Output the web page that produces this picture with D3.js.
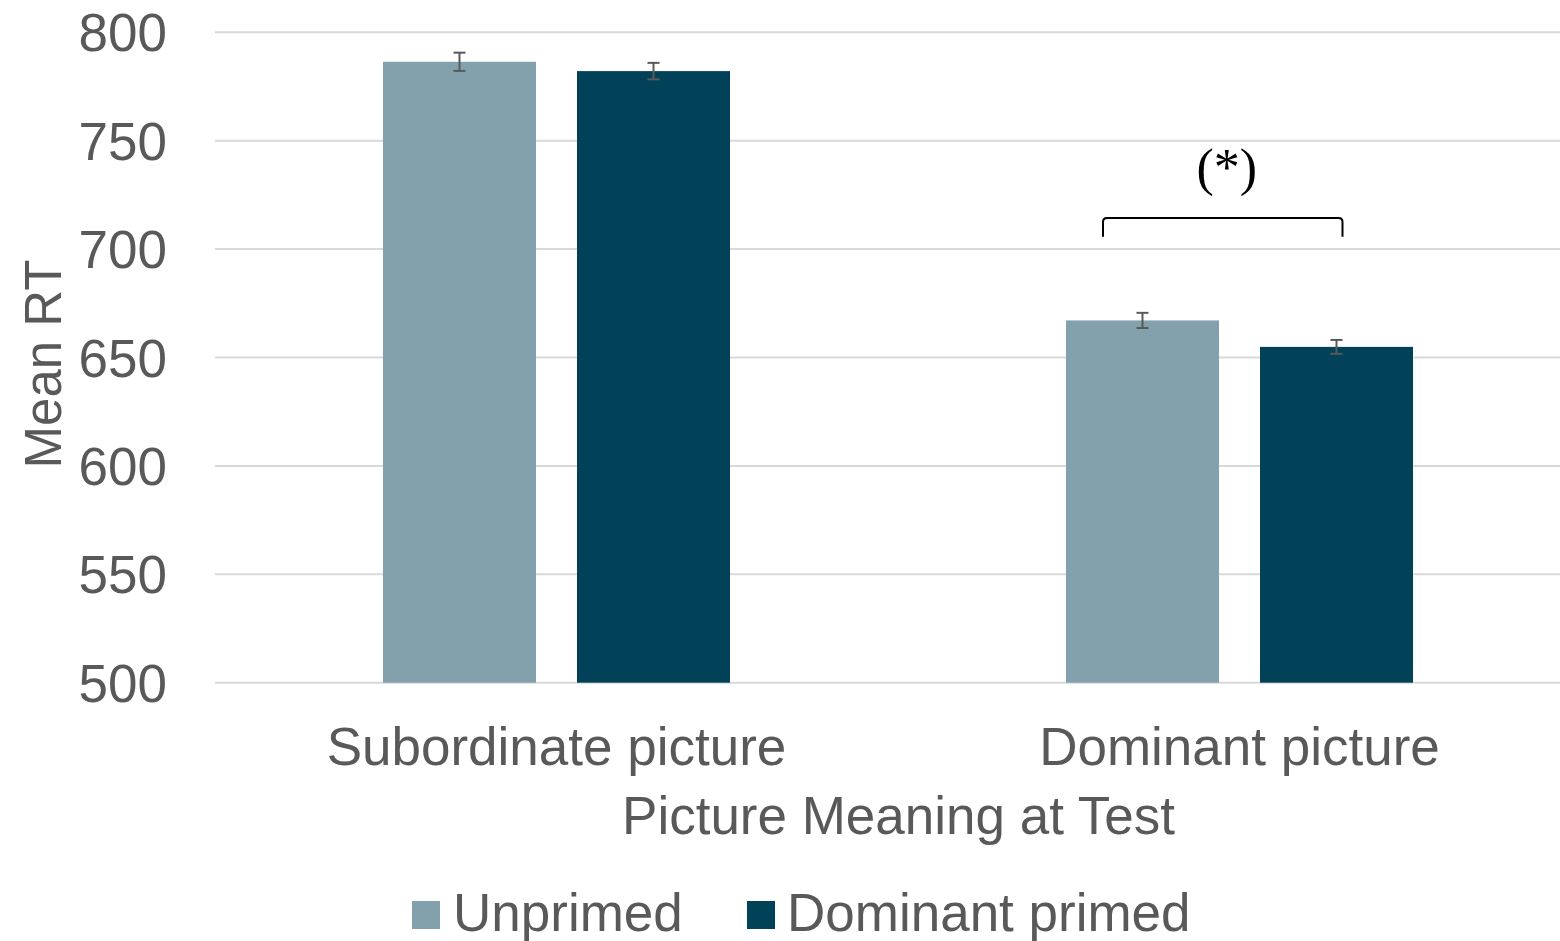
<!DOCTYPE html>
<html>
<head>
<meta charset="utf-8">
<script src="https://cdn.jsdelivr.net/npm/d3@7"></script>
<style>
  html, body { margin: 0; padding: 0; background: #ffffff; }
  svg { display: block; }
  text { font-family: "Liberation Sans", Arial, sans-serif; fill: #595959; }
</style>
</head>
<body>
<svg id="chart" width="1560" height="941"></svg>
<script>
// Mean reaction times by picture meaning and priming condition
const categories = ["Subordinate picture", "Dominant picture"];
const seriesNames = ["Unprimed", "Dominant primed"];
const unprimed = [786.4, 667.1];
const dominantPrimed = [782.1, 654.9];
const unprimedErr = [4.2, 3.5];
const dominantPrimedErr = [3.8, 3.2];
const yTicks = [500, 550, 600, 650, 700, 750, 800];
const seriesColors = ["#82a1ac", "#024259"];

const yTitle = "Mean RT";
const xTitle = "Picture Meaning at Test";
const sigLabel = "(*)";
const sigBracket = { category: "Dominant picture", low: 705.7, high: 714.3 };

const rows = categories.map((c, i) => ({
  category: c,
  bars: [
    { series: seriesNames[0], value: unprimed[i], err: unprimedErr[i] },
    { series: seriesNames[1], value: dominantPrimed[i], err: dominantPrimedErr[i] }
  ]
}));

const svg = d3.select("#chart");
const FS = 53;

const y = d3.scaleLinear().domain([500, 800]).range([682.7, 32.3]);
const x0 = d3.scaleBand().domain(categories).range([215, 1581]).padding(0);
const groupWidth = 347;
const groupStart = (x0.bandwidth() - groupWidth) / 2;
const x1 = d3.scaleBand().domain(seriesNames)
  .range([groupStart, groupStart + groupWidth])
  .paddingInner(41 / 194).paddingOuter(0);
const color = d3.scaleOrdinal().domain(seriesNames).range(seriesColors);

// Horizontal gridlines
svg.append("g")
  .selectAll("line")
  .data(yTicks)
  .join("line")
  .attr("x1", 215)
  .attr("x2", 1560)
  .attr("y1", d => y(d))
  .attr("y2", d => y(d))
  .attr("stroke", "#d9d9d9")
  .attr("stroke-width", 2);

// Y axis labels
const yAxis = svg.append("g")
  .attr("transform", "translate(167,0)")
  .call(d3.axisLeft(y).tickValues(yTicks).tickSize(0).tickPadding(0).tickFormat(d3.format("d")));
yAxis.select(".domain").remove();
yAxis.selectAll("text")
  .attr("font-size", FS)
  .attr("fill", "#595959")
  .attr("font-family", "Liberation Sans, Arial, sans-serif")
  .attr("dy", "0.35em");

// Bars
const groups = svg.append("g")
  .selectAll("g")
  .data(rows)
  .join("g")
  .attr("transform", d => `translate(${x0(d.category)},0)`);

groups.selectAll("rect")
  .data(d => d.bars)
  .join("rect")
  .attr("x", d => x1(d.series))
  .attr("y", d => y(d.value))
  .attr("width", x1.bandwidth())
  .attr("height", d => y(500) - y(d.value))
  .attr("fill", d => color(d.series));

// Error bars
const capHalf = 6;
const eb = groups.selectAll("g.err")
  .data(d => d.bars)
  .join("g")
  .attr("class", "err")
  .attr("stroke", "#595959")
  .attr("stroke-width", 2);
eb.append("line")
  .attr("x1", d => x1(d.series) + x1.bandwidth() / 2)
  .attr("x2", d => x1(d.series) + x1.bandwidth() / 2)
  .attr("y1", d => y(d.value + d.err))
  .attr("y2", d => y(d.value - d.err));
eb.append("line")
  .attr("x1", d => x1(d.series) + x1.bandwidth() / 2 - capHalf)
  .attr("x2", d => x1(d.series) + x1.bandwidth() / 2 + capHalf)
  .attr("y1", d => y(d.value + d.err))
  .attr("y2", d => y(d.value + d.err));
eb.append("line")
  .attr("x1", d => x1(d.series) + x1.bandwidth() / 2 - capHalf)
  .attr("x2", d => x1(d.series) + x1.bandwidth() / 2 + capHalf)
  .attr("y1", d => y(d.value - d.err))
  .attr("y2", d => y(d.value - d.err));

// Category labels
svg.append("g")
  .selectAll("text")
  .data(categories)
  .join("text")
  .attr("x", d => x0(d) + groupStart + groupWidth / 2)
  .attr("y", 765)
  .attr("text-anchor", "middle")
  .attr("font-size", FS)
  .text(d => d);

// Axis titles
svg.append("text")
  .attr("x", 898.5)
  .attr("y", 834)
  .attr("text-anchor", "middle")
  .attr("font-size", FS)
  .text(xTitle);

svg.append("text")
  .attr("transform", "translate(61,364) rotate(-90)")
  .attr("text-anchor", "middle")
  .attr("font-size", 51)
  .text(yTitle);

// Significance bracket over the dominant-picture pair
const bx = x0(sigBracket.category);
const bL = bx + x1(seriesNames[0]) + 37;
const bR = bx + x1(seriesNames[1]) + x1.bandwidth() / 2 + 6;
const yHi = y(sigBracket.high), yLo = y(sigBracket.low);
const r = 4;
svg.append("path")
  .attr("d", `M${bL},${yLo} L${bL},${yHi + r} Q${bL},${yHi} ${bL + r},${yHi} L${bR - r},${yHi} Q${bR},${yHi} ${bR},${yHi + r} L${bR},${yLo}`)
  .attr("fill", "none")
  .attr("stroke", "#000000")
  .attr("stroke-width", 2);

svg.append("text")
  .attr("x", (bL + bR) / 2 + 4)
  .attr("y", yHi - 33)
  .attr("text-anchor", "middle")
  .attr("font-size", 52)
  .style("fill", "#000000")
  .style("font-family", "'Liberation Serif', 'Times New Roman', serif")
  .text(sigLabel);

// Legend
const legendItems = [
  { name: seriesNames[0], sx: 412, tx: 453 },
  { name: seriesNames[1], sx: 747, tx: 787 }
];
const legend = svg.append("g");
legend.selectAll("rect")
  .data(legendItems)
  .join("rect")
  .attr("x", d => d.sx)
  .attr("y", 901)
  .attr("width", 28)
  .attr("height", 28)
  .attr("fill", d => color(d.name));
legend.selectAll("text")
  .data(legendItems)
  .join("text")
  .attr("x", d => d.tx)
  .attr("y", 931)
  .attr("font-size", FS)
  .text(d => d.name);
</script>
</body>
</html>
